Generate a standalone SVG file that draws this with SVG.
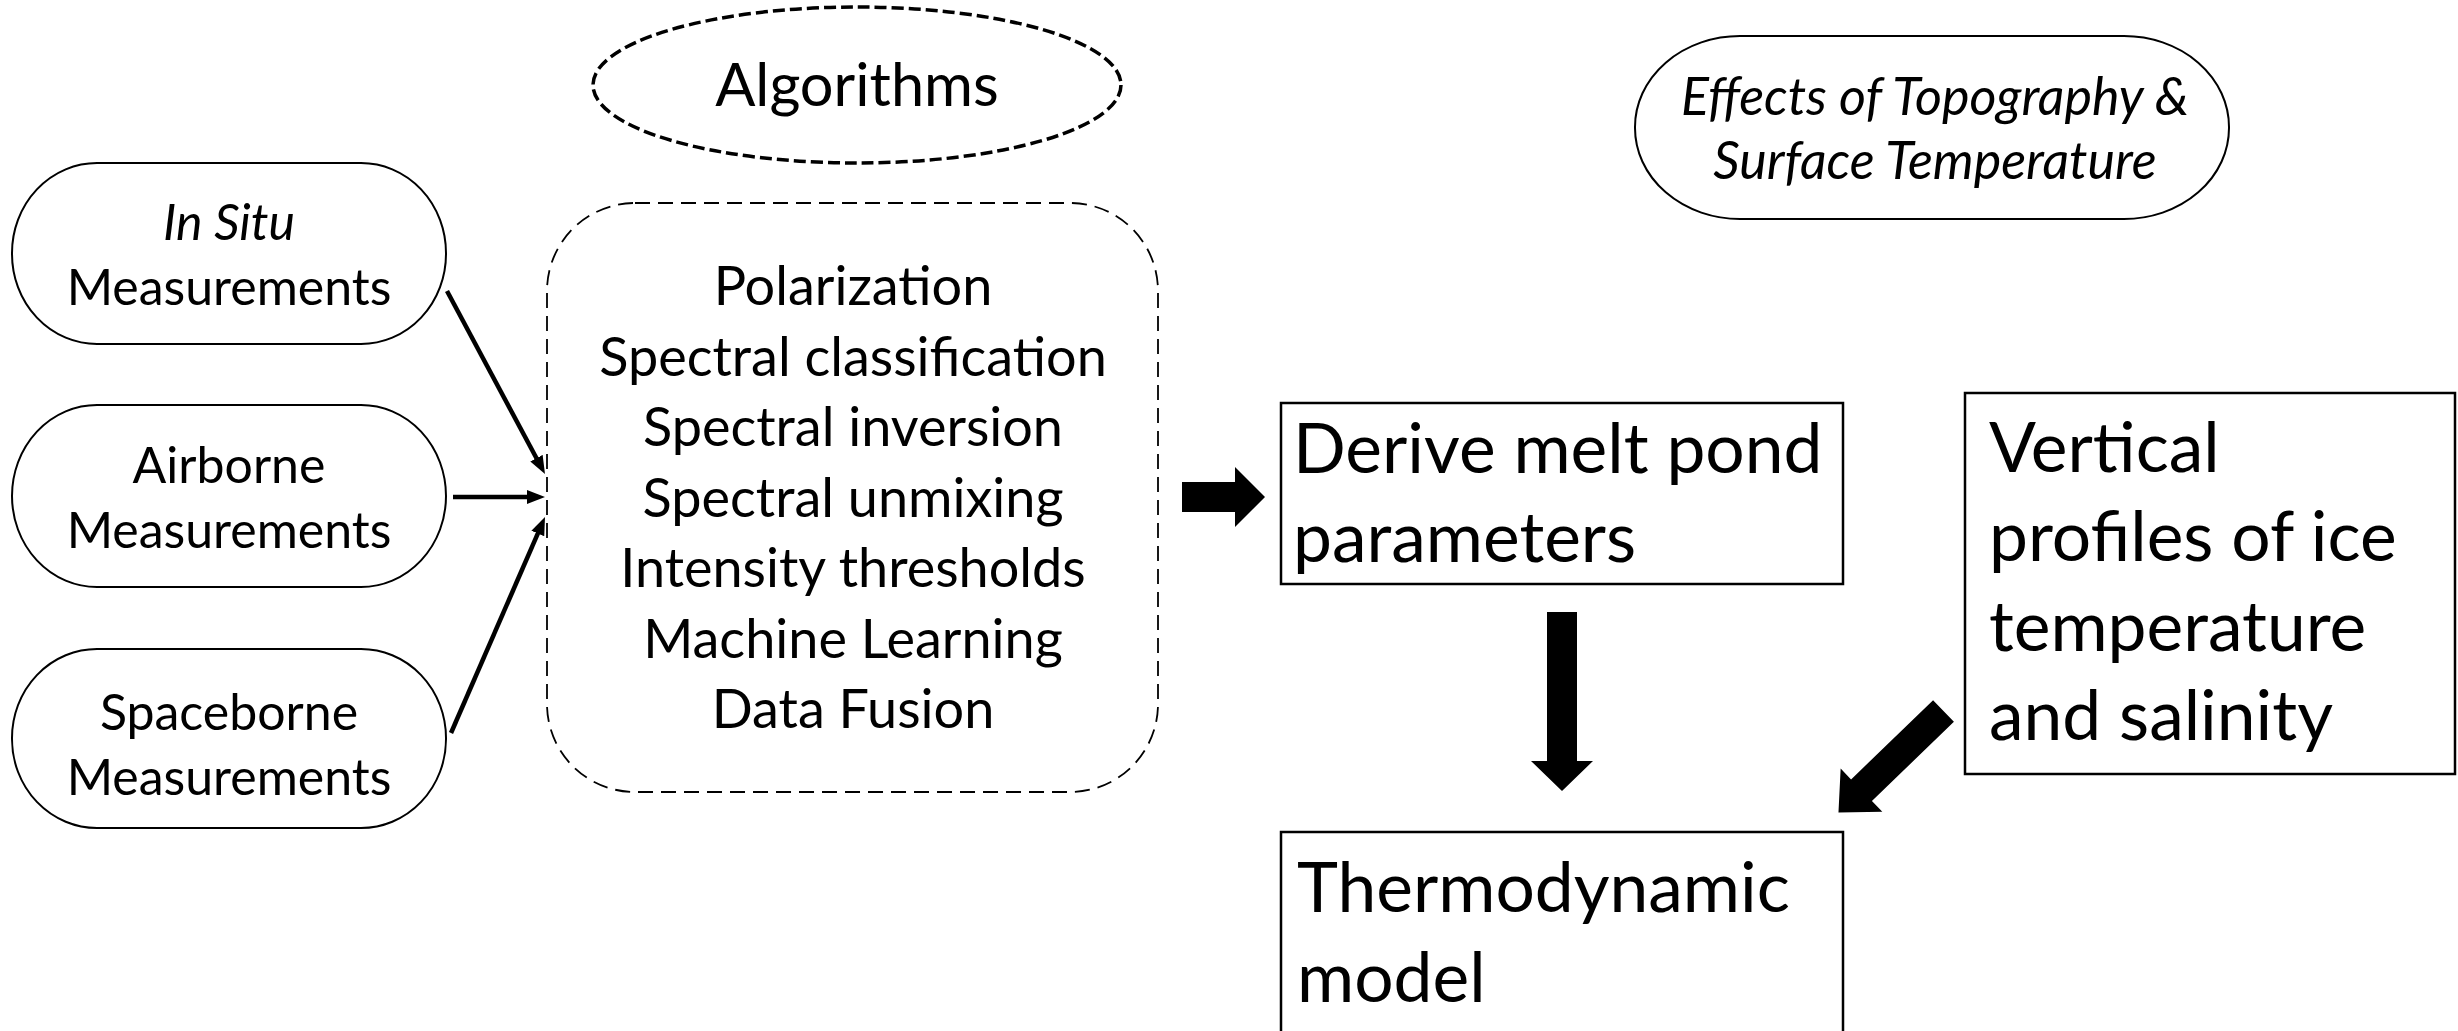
<svg xmlns="http://www.w3.org/2000/svg" width="2458" height="1031" viewBox="0 0 2458 1031">
<defs>
<style>
text{font-family:Lato,"Open Sans","Liberation Sans",sans-serif;fill:#000}
.node{fill:#fff;stroke:#000;stroke-width:2}
.box{fill:#fff;stroke:#000;stroke-width:2.5}
.meas{font-size:50px;text-anchor:middle}
.list{font-size:54px;text-anchor:middle}
.big{font-size:69.5px}
.it{font-style:italic}
.thin{stroke:#000;stroke-width:4.5;fill:none}
.block{fill:#000}
</style>
<marker id="ah" markerUnits="userSpaceOnUse" markerWidth="18" markerHeight="14" viewBox="0 0 18 14" refX="10" refY="7" orient="auto">
<path d="M0,0 L18,7 L0,14 z" fill="#000"/>
</marker>
</defs>
<rect width="2458" height="1031" fill="#fff"/>

<g id="algorithms-label">
<ellipse cx="857" cy="85" rx="264" ry="78" fill="#fff" stroke="#000" stroke-width="3.5" stroke-dasharray="12 5"/>
<text x="857" y="106" style="font-size:59.5px;text-anchor:middle">Algorithms</text>
</g>

<g id="in-situ">
<rect class="node" x="12" y="163" width="434" height="181" rx="85" ry="90"/>
<text class="meas it" x="229" y="240">In Situ</text>
<text class="meas" x="229" y="305">Measurements</text>
</g>

<g id="airborne">
<rect class="node" x="12" y="405" width="434" height="182" rx="85" ry="91"/>
<text class="meas" x="229" y="483">Airborne</text>
<text class="meas" x="229" y="548">Measurements</text>
</g>

<g id="spaceborne">
<rect class="node" x="12" y="649" width="434" height="179" rx="85" ry="89"/>
<text class="meas" x="229" y="730">Spaceborne</text>
<text class="meas" x="229" y="795">Measurements</text>
</g>

<g id="algorithm-list">
<rect x="547" y="203" width="611" height="589" rx="88" ry="88" fill="#fff" stroke="#000" stroke-width="1.8" stroke-dasharray="15 8"/>
<text class="list" x="853" y="305">Polarization</text>
<text class="list" x="853" y="375.5">Spectral classification</text>
<text class="list" x="853" y="446">Spectral inversion</text>
<text class="list" x="853" y="516.5">Spectral unmixing</text>
<text class="list" x="853" y="587">Intensity thresholds</text>
<text class="list" x="853" y="657.5">Machine Learning</text>
<text class="list" x="853" y="728">Data Fusion</text>
</g>

<g id="effects">
<rect class="node" x="1635" y="36" width="594" height="183" rx="105" ry="91"/>
<text class="it" x="1935" y="115" style="font-size:52px;text-anchor:middle">Effects of Topography &amp;</text>
<text class="it" x="1935" y="179" style="font-size:52px;text-anchor:middle">Surface Temperature</text>
</g>

<g id="derive">
<rect class="box" x="1281" y="403" width="562" height="181"/>
<text class="big" x="1293" y="473">Derive melt pond</text>
<text class="big" x="1293" y="562">parameters</text>
</g>

<g id="vertical">
<rect class="box" x="1965" y="393" width="490" height="381"/>
<text class="big" x="1989" y="472">Vertical</text>
<text class="big" x="1989" y="561">profiles of ice</text>
<text class="big" x="1989" y="651">temperature</text>
<text class="big" x="1989" y="740">and salinity</text>
</g>

<g id="thermo">
<rect class="box" x="1281" y="832" width="562" height="220"/>
<text class="big" x="1297" y="912">Thermodynamic</text>
<text class="big" x="1297" y="1002">model</text>
</g>

<g id="connectors">
<line class="thin" x1="447" y1="291" x2="541.2" y2="467" marker-end="url(#ah)"/>
<line class="thin" x1="453" y1="497" x2="537" y2="497" marker-end="url(#ah)"/>
<line class="thin" x1="451" y1="733" x2="541.8" y2="524.3" marker-end="url(#ah)"/>
<polygon class="block" points="1182,482 1235,482 1235,467 1265,497 1235,527 1235,512 1182,512"/>
<polygon class="block" points="1547,612 1577,612 1577,761 1593,761 1562,791 1531,761 1547,761"/>
<polygon class="block" transform="translate(1943.5,711) rotate(136)" points="0,-15 114,-15 114,-30 146,0 114,30 114,15 0,15"/>
</g>
</svg>
